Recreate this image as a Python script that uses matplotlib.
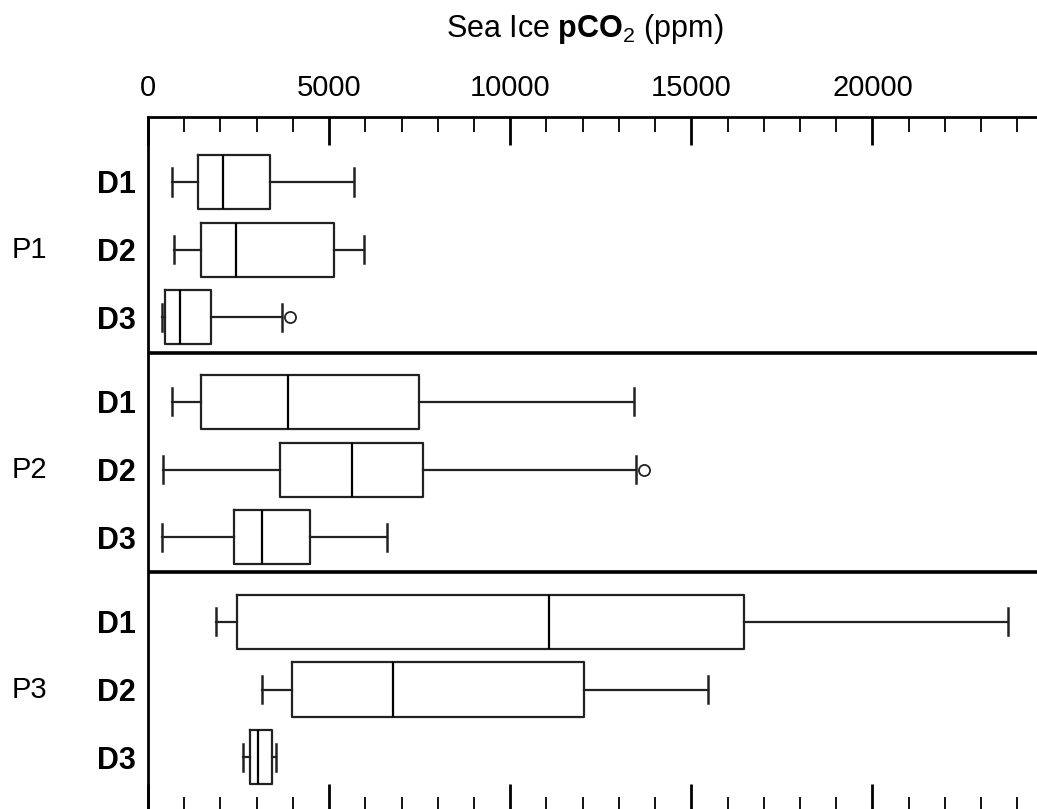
import numpy as np
import matplotlib
matplotlib.use('Agg')
import matplotlib.pyplot as plt
from matplotlib.ticker import MultipleLocator
from matplotlib.transforms import blended_transform_factory

plt.rcParams['font.family'] = ['Liberation Sans', 'DejaVu Sans']
plt.rcParams['mathtext.fontset'] = 'custom'
plt.rcParams['mathtext.rm'] = 'Liberation Sans'
plt.rcParams['mathtext.bf'] = 'Liberation Sans:bold'

# sea ice pCO2 (ppm) summary per site / day
sites = ['P1', 'P2', 'P3']
days = ['D1', 'D2', 'D3']
whislo = [668, 723, 400, 668, 419, 391, 1869, 3153, 2614]
q1 = [1375, 1450, 483, 1477, 3640, 2369, 2471, 3976, 2819]
med = [2075, 2435, 870, 3870, 5637, 3153, 11077, 6767, 3026]
q3 = [3363, 5141, 1753, 7487, 7598, 4486, 16449, 12043, 3437]
whishi = [5693, 5958, 3705, 13413, 13478, 6604, 23757, 15453, 3534]
fliers = [[], [], [3934], [], [13689], [], [], [], []]

group_step = 3.25
pos = [g * group_step + r for g in range(len(sites)) for r in range(len(days))]

stats = []
for i in range(len(med)):
    stats.append(dict(whislo=whislo[i], q1=q1[i], med=med[i], q3=q3[i],
                      whishi=whishi[i], fliers=fliers[i]))

fig = plt.figure(figsize=(10.37, 8.09), dpi=100)
ax = fig.add_axes([148 / 1037, 1 - 812 / 809, 905.5 / 1037, 695 / 809])

lc = '#222222'
ax.bxp(stats, positions=pos, orientation='horizontal', widths=0.8, capwidths=0.4,
       boxprops=dict(color=lc, linewidth=1.6),
       whiskerprops=dict(color=lc, linewidth=1.6),
       capprops=dict(color=lc, linewidth=1.8),
       medianprops=dict(color='black', linewidth=1.6),
       flierprops=dict(marker='o', markerfacecolor='white', markeredgecolor=lc,
                       markersize=8, markeredgewidth=1.3))

# lines between sites
for g in range(len(sites) - 1):
    ax.axhline(g * group_step + 2.52, color='black', linewidth=2.6)

ax.set_xlim(0, 25000)
ax.set_ylim(9.31, -0.96)

ax.set_xticks(range(0, 20001, 5000))
ax.xaxis.set_minor_locator(MultipleLocator(1000))
ax.xaxis.set_ticks_position('both')
ax.tick_params(axis='x', which='both', direction='in', labeltop=True, labelbottom=False,
               colors='black')
ax.tick_params(axis='x', which='major', length=20, width=2, pad=11, labelsize=21)
ax.tick_params(axis='x', which='minor', length=11, width=1.3)

ax.set_yticks(pos)
ax.set_yticklabels(days * len(sites), fontsize=22, fontweight='bold')
ax.tick_params(axis='y', length=0, pad=9)

for side in ['top', 'left']:
    ax.spines[side].set_linewidth(2)
ax.spines['right'].set_visible(False)

trans = blended_transform_factory(fig.transFigure, ax.transData)
for g, s in enumerate(sites):
    ax.text(29 / 1037, g * group_step + 1, s, transform=trans, ha='center', va='center',
            fontsize=21)

fig.text(585 / 1037, 1 - 29 / 809, r'Sea Ice $\mathbf{pCO}_\mathrm{2}$ (ppm)',
         ha='center', va='center', fontsize=22)

fig.savefig('out.png', dpi=100)
